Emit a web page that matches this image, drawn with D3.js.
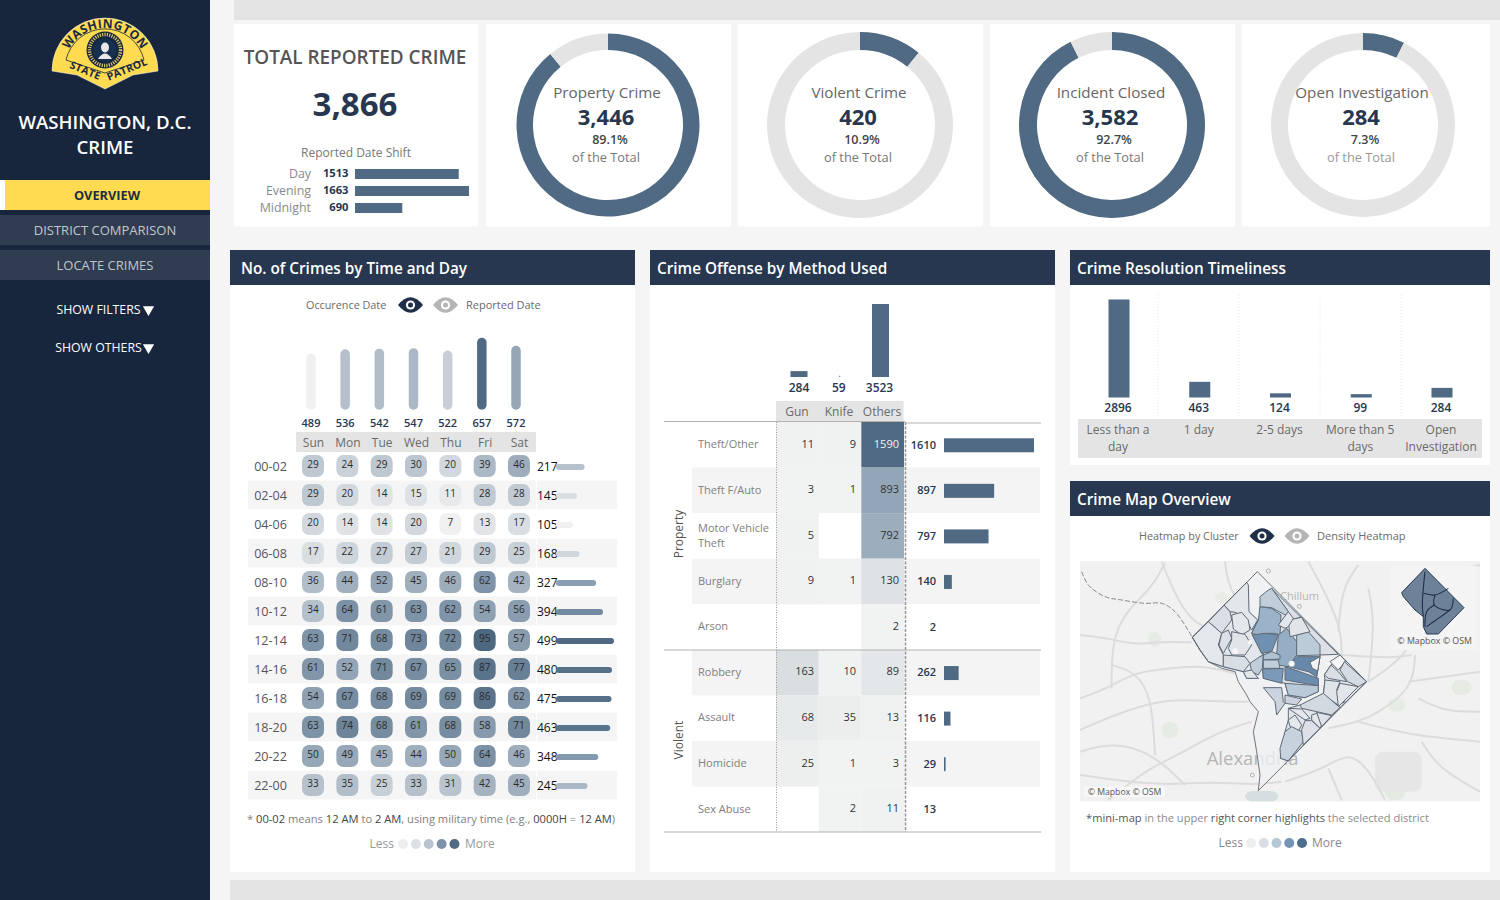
<!DOCTYPE html>
<html>
<head>
<meta charset="utf-8">
<script src="https://cdnjs.cloudflare.com/ajax/libs/d3/7.8.5/d3.min.js"></script>
<style>
html, body { margin: 0; padding: 0; background: #f5f5f5; overflow: hidden; }
svg { display: block; }
text { font-family: "Open Sans", sans-serif; }
</style>
</head>
<body>
<script>
// top cards
var totalCrime = 3866
var shifts = ['Day', 'Evening', 'Midnight']
var shiftValues = [1513, 1663, 690]
var donutLabels = ['Property Crime', 'Violent Crime', 'Incident Closed', 'Open Investigation']
var donutValues = [3446, 420, 3582, 284]
var donutPercents = ['89.1%', '10.9%', '92.7%', '7.3%']

// time and day
var days = ['Sun', 'Mon', 'Tue', 'Wed', 'Thu', 'Fri', 'Sat']
var dayTotals = [489, 536, 542, 547, 522, 657, 572]
var hours = ['00-02', '02-04', '04-06', '06-08', '08-10', '10-12', '12-14', '14-16', '16-18', '18-20', '20-22', '22-00']
var hourTotals = [217, 145, 105, 168, 327, 394, 499, 480, 475, 463, 348, 245]
var heat = [
  [29, 24, 29, 30, 20, 39, 46],
  [29, 20, 14, 15, 11, 28, 28],
  [20, 14, 14, 20, 7, 13, 17],
  [17, 22, 27, 27, 21, 29, 25],
  [36, 44, 52, 45, 46, 62, 42],
  [34, 64, 61, 63, 62, 54, 56],
  [63, 71, 68, 73, 72, 95, 57],
  [61, 52, 71, 67, 65, 87, 77],
  [54, 67, 68, 69, 69, 86, 62],
  [63, 74, 68, 61, 68, 58, 71],
  [50, 49, 45, 44, 50, 64, 46],
  [33, 35, 25, 33, 31, 42, 45]
]

// method used
var methods = ['Gun', 'Knife', 'Others']
var methodTotals = [284, 59, 3523]
var offenses = ['Theft/Other', 'Theft F/Auto', 'Motor Vehicle|Theft', 'Burglary', 'Arson', 'Robbery', 'Assault', 'Homicide', 'Sex Abuse']
var offenseTotals = [1610, 897, 797, 140, 2, 262, 116, 29, 13]
var gunCounts = [11, 3, 5, 9, null, 163, 68, 25, null]
var knifeCounts = [9, 1, null, 1, null, 10, 35, 1, 2]
var otherCounts = [1590, 893, 792, 130, 2, 89, 13, 3, 11]

// timeliness
var delays = ['Less than a|day', '1 day', '2-5 days', 'More than 5|days', 'Open|Investigation']
var delayCounts = [2896, 463, 124, 99, 284]

// map: rings are traced on a 1230 x 930 grid laid over the map panel
var dcOutline = [[547,50],[875,380],[550,707],[555,660],[545,590],[535,530],[550,470],[525,440],[515,420],[490,380],[480,350],[440,340],[400,320],[375,285],[352,247]]
var districtRings = [
  // backing areas first, so the clusters on top leave no holes
  [[352,247],[515,85],[520,170],[548,195],[530,235],[545,265],[560,295],[565,300],[555,305],[530,350],[550,370],[515,370],[505,350],[445,335],[400,320],[375,285]],
  [[555,155],[640,170],[680,187],[735,300],[735,305],[725,365],[730,392],[730,410],[690,428],[640,420],[630,385],[565,370],[563,342],[565,300]],
  [[795,300],[875,380],[795,458],[745,415],[750,375],[748,360],[768,330]],
  [[675,450],[795,458],[640,618],[617,610],[630,530],[640,495],[640,460]],
  // clusters
  [[590,100],[790,298],[735,300],[700,230],[680,187],[640,195],[640,170]],
  [[515,82],[447,150],[465,170],[480,172],[510,185],[530,225],[548,195],[522,170],[520,90]],
  [[447,150],[400,200],[440,235],[470,195],[465,170]],
  [[470,180],[500,172],[520,195],[525,225],[500,240],[475,222]],
  [[352,247],[400,200],[440,235],[430,270],[445,300],[445,335],[400,320],[375,285]],
  [[440,235],[460,225],[470,250],[445,295],[432,270]],
  [[470,230],[510,238],[530,270],[510,300],[470,300],[460,280],[470,255]],
  [[445,300],[510,305],[525,325],[505,350],[445,335]],
  [[525,325],[555,305],[565,300],[562,340],[550,360],[530,350]],
  [[505,350],[530,345],[550,370],[515,370]],
  [[555,155],[590,160],[618,180],[615,240],[600,235],[575,235],[550,240],[530,235],[550,195]],
  [[555,125],[580,105],[590,100],[640,170],[635,182],[590,158],[555,155]],
  [[532,240],[570,235],[610,240],[600,265],[590,290],[560,295],[545,265]],
  [[610,240],[635,220],[665,260],[665,300],[640,335],[610,330],[605,300]],
  [[565,300],[590,290],[615,300],[615,312],[565,315]],
  [[565,315],[610,315],[615,340],[565,340]],
  [[563,342],[625,340],[620,385],[565,370]],
  [[640,335],[665,305],[735,305],[725,365],[700,350],[660,340]],
  [[705,322],[735,305],[728,348],[712,340]],
  [[630,335],[660,345],[730,370],[730,392],[630,375]],
  [[665,240],[700,230],[735,270],[735,300],[665,302]],
  [[640,195],[680,187],[705,230],[665,240],[645,245]],
  [[610,210],[640,170],[655,190],[640,215],[630,220]],
  [[630,385],[730,392],[730,410],[690,428],[640,420]],
  [[565,398],[620,398],[625,440],[630,445],[605,480],[600,440]],
  [[630,420],[680,432],[665,450],[630,445]],
  [[768,330],[790,350],[815,380],[760,370],[748,360]],
  [[795,300],[812,318],[790,345],[765,320]],
  [[808,320],[875,380],[850,395],[818,380],[795,345]],
  [[750,375],[795,380],[785,405],[810,440],[790,450],[745,420]],
  [[795,385],[850,395],[790,455],[785,410]],
  [[745,415],[795,458],[770,480],[725,470],[680,460],[675,450]],
  [[640,460],[680,462],[705,490],[690,495]],
  [[710,480],[725,475],[745,500],[735,520],[710,495]],
  [[725,472],[770,482],[740,515]],
  [[640,495],[660,480],[680,510],[670,528],[645,515]],
  [[630,530],[650,515],[680,530],[685,560],[640,618],[617,610],[615,580]],
  [[690,497],[710,497],[735,520],[685,570],[680,525]]
]
var districtLevels = [0.5, 0.9, 0.6, 0.6, 0.8, 0.5, 0.9, 0.4, 0.4, 0.8, 0.6, 1, 1.7, 0.5, 2.4, 1.7, 3.1, 2.5, 2.1, 1.7, 2.9, 3.3, -0.5, 3.2, 1.8, 0.6, 0.5, 1.9, 1.4, 1.4, 0.9, -0.5, 1.1, 0.6, 0.5, 1.2, 0.4, 0.5, 0.7, 0.3, 1.5, 0.8]
var roads = [
  [[15,240],[100,250],[180,270],[250,260],[350,262]],
  [[110,400],[110,260],[150,170],[230,100],[270,25]],
  [[15,430],[100,400],[180,350],[290,340],[380,330],[480,355]],
  [[15,525],[140,470],[280,430],[420,440],[520,440]],
  [[100,735],[220,640],[310,600],[430,530],[530,500]],
  [[880,380],[1000,300],[1030,200],[1000,100],[1100,50],[1215,30]],
  [[1020,300],[1015,400],[900,480],[850,500],[760,520]],
  [[1215,560],[1000,540],[850,500]],
  [[630,680],[750,640],[820,590],[880,640],[930,735]],
  [[700,20],[760,130],[800,230],[800,300]],
  [[800,300],[950,310],[1010,300]],
  [[15,660],[150,680],[280,690],[400,680],[540,690],[620,680]],
  [[850,30],[800,100],[790,230]],
  [[1000,380],[1215,350]],
  [[260,20],[300,120],[350,200],[420,230]],
  [[15,590],[120,560],[240,600],[330,690]],
  [[450,20],[460,100],[520,180]],
  [[1040,560],[1090,640],[1215,710]],
  [[110,330],[180,350],[230,420],[240,600]],
  [[880,100],[900,200],[880,380]],
  [[1030,430],[1110,470],[1215,470]],
  [[760,640],[800,735]]
]
var potomac = [[20,50],[40,90],[90,125],[140,135],[210,145],[260,145],[300,170],[352,247]]
var miniOutline = [[1050,40],[1167,158],[1090,237],[1055,237],[1045,215],[1045,185],[1020,165],[985,125],[980,113]]
var miniBorders = [
  [[1050,50],[1045,100],[1042,150],[1045,185]],
  [[1045,115],[1080,120],[1120,100]],
  [[1080,120],[1078,150],[1125,165],[1135,130]],
  [[1078,150],[1055,170],[1050,215]],
  [[1125,165],[1090,190],[1055,215]]
]
var legendShades = ['#eceef0', '#d9dde4', '#b5c7d5', '#7494b5', '#4c6f90']
var heatLegendShades = ['#eeeeee', '#dcdfe3', '#b7c3cf', '#7d92a8', '#4f6a82']

var dark = '#27374f', slate = '#4f6a82', band = '#e4e4e4', greyText = '#6a6a6a'
var svg = d3.select('body').append('svg').attr('width', 1500).attr('height', 900)

function rect(g, x, y, w, h, fill) {
  return g.append('rect').attr('x', x).attr('y', y).attr('width', w).attr('height', h).attr('fill', fill)
}
function label(g, x, y, str, size, fill, anchor, weight) {
  return g.append('text').attr('x', x).attr('y', y).attr('dy', '0.35em')
    .attr('font-size', size).attr('fill', fill)
    .attr('text-anchor', anchor || 'start').attr('font-weight', weight || 400).text(str)
}
function multiline(sel, lineHeight) {
  sel.each(function(d) {
    var t = d3.select(this), parts = t.attr('data-lines').split('|'), x = t.attr('x')
    parts.forEach(function(p, i) {
      t.append('tspan').attr('x', x).attr('dy', i ? lineHeight : '0.35em').text(p)
    })
  })
}
function eye(g, cx, cy, color) {
  var e = g.append('g').attr('transform', 'translate(' + cx + ',' + cy + ')')
  e.append('path').attr('d', 'M-12.5,0Q0,-15.5 12.5,0Q0,15.5 -12.5,0Z').attr('fill', color)
  e.append('circle').attr('r', 4.6).attr('fill', '#fff')
  e.append('circle').attr('r', 2.5).attr('fill', color)
}

// ---- page frame
var frame = svg.append('g')
rect(frame, 234, 0, 1266, 20, band)
rect(frame, 230, 880, 1270, 20, band)
;[[234, 244], [486, 245], [738, 245], [990, 245], [1242, 248]].forEach(function(c) {
  rect(frame, c[0], 24, c[1], 202.5, '#fff')
})
;[[230, 250, 405, 622, 'No. of Crimes by Time and Day', 11],
  [650, 250, 405, 622, 'Crime Offense by Method Used', 7],
  [1070, 250, 420, 215, 'Crime Resolution Timeliness', 7],
  [1070, 481, 420, 391, 'Crime Map Overview', 7]].forEach(function(p) {
  rect(frame, p[0], p[1], p[2], p[3], '#fff')
  rect(frame, p[0], p[1], p[2], 35, dark)
  label(frame, p[0] + p[5], p[1] + 18.5, p[4], 15.3, '#fff', 'start', 600)
})

// ---- sidebar
var side = svg.append('g')
rect(side, 0, 0, 210, 900, '#17263d')
rect(side, 0, 180, 5, 30, '#fff')
rect(side, 5, 180, 205, 30, '#fedb50')
rect(side, 0, 215, 210, 30, '#303d50')
rect(side, 0, 250, 210, 30, '#303d50')
label(side, 105, 122.5, 'WASHINGTON, D.C.', 18.6, '#fff', 'middle', 600)
label(side, 105, 147.5, 'CRIME', 18.6, '#fff', 'middle', 600)
label(side, 107, 195.5, 'OVERVIEW', 12.8, '#1d2d45', 'middle', 700)
label(side, 105, 230.5, 'DISTRICT COMPARISON', 13, '#c2c6cc', 'middle')
label(side, 105, 265.5, 'LOCATE CRIMES', 13, '#c2c6cc', 'middle')
label(side, 98.5, 309.5, 'SHOW FILTERS', 12.3, '#fff', 'middle')
label(side, 98.5, 347.5, 'SHOW OTHERS', 12.3, '#fff', 'middle')
;[309.5, 347.5].forEach(function(y) {
  side.append('path').attr('fill', '#fff')
    .attr('d', d3.symbol().type(d3.symbolTriangle).size(55))
    .attr('transform', 'translate(148.5,' + y + ') rotate(180)')
})

// logo
var logo = svg.append('g')
var defs = svg.append('defs')
defs.append('path').attr('id', 'arcTop').attr('d', 'M64,69A41,41 0 0 1 146,69')
defs.append('path').attr('id', 'lineLeft').attr('d', 'M67,67L101,81')
defs.append('path').attr('id', 'lineRight').attr('d', 'M108,81L149,64')
logo.append('path').attr('fill', '#fedb50').attr('stroke', '#fff').attr('stroke-width', 0.5)
  .attr('d', 'M52,71A53,53 0 0 1 158,71L133,75L105,89L77,75Z')
logo.append('path').attr('fill', 'none').attr('stroke', '#17263d').attr('stroke-width', 0.8)
  .attr('d', 'M66,60L105,73L144,60M66,60A40,40 0 0 1 144,60')
logo.append('circle').attr('cx', 105).attr('cy', 50).attr('r', 18.5).attr('fill', '#17263d')
logo.append('circle').attr('cx', 105).attr('cy', 50).attr('r', 15.5).attr('fill', 'none')
  .attr('stroke', '#d9c46a').attr('stroke-width', 3.4).attr('stroke-dasharray', '1.2 1.2')
logo.append('circle').attr('cx', 105).attr('cy', 50).attr('r', 11.5).attr('fill', '#15314f')
logo.append('ellipse').attr('cx', 105).attr('cy', 47.5).attr('rx', 4).attr('ry', 5).attr('fill', '#e8e8e8')
logo.append('path').attr('d', 'M98,59Q105,48 112,59Z').attr('fill', '#e8e8e8')
;[['#arcTop', 'WASHINGTON', 12.2, '50%'], ['#lineLeft', 'STATE', 10.5, '50%'], ['#lineRight', 'PATROL', 10.5, '50%']].forEach(function(t) {
  logo.append('text').attr('font-size', t[2]).attr('font-weight', 700).attr('fill', '#1b2b43')
    .attr('text-anchor', 'middle').attr('letter-spacing', 0.3)
    .append('textPath').attr('href', t[0]).attr('startOffset', t[3]).text(t[1])
})

// ---- total card
var total = svg.append('g')
label(total, 355, 57, 'TOTAL REPORTED CRIME', 18.9, '#555', 'middle', 600)
label(total, 355, 104, d3.format(',')(totalCrime), 33, dark, 'middle', 700)
label(total, 356, 153, 'Reported Date Shift', 12, '#777', 'middle')
var shiftY = d3.scalePoint().domain(shifts).range([174, 208])
var shiftX = d3.scaleLinear().domain([0, d3.max(shiftValues)]).range([0, 114])
shifts.forEach(function(s, i) {
  label(total, 311, shiftY(s), s, 12.4, '#8a8a8a', 'end')
  label(total, 348.5, shiftY(s) - 0.5, shiftValues[i], 11.2, dark, 'end', 700)
  rect(total, 355, shiftY(s) - 5, shiftX(shiftValues[i]), 10, slate)
})

// ---- donuts
var donutCx = [608, 860, 1112, 1363]
var donutOuter = [91.5, 93, 93, 92]
var pie = d3.pie().sort(null).value(function(d) { return d })
donutValues.forEach(function(v, i) {
  var g = svg.append('g').attr('transform', 'translate(' + donutCx[i] + ',125)')
  var arc = d3.arc().innerRadius(75).outerRadius(donutOuter[i])
  g.selectAll('path').data(pie([v, totalCrime - v])).enter().append('path')
    .attr('d', arc).attr('fill', function(d, j) { return j ? band : slate })
  label(g, -1, -32.5, donutLabels[i], 15.2, '#666', 'middle')
  label(g, -2, -8, d3.format(',')(v), 22, dark, 'middle', 700)
  label(g, 2, 14.5, donutPercents[i], 12.5, '#444', 'middle', 600)
  label(g, -2, 32.5, 'of the Total', 12.8, i == 3 ? '#999' : '#777', 'middle')
})

// ---- time and day
var td = svg.append('g')
label(td, 306, 305, 'Occurence Date', 10.8, greyText)
eye(td, 410.5, 305, '#1f2f48')
eye(td, 445.5, 305, '#b5b5b5')
label(td, 466, 305, 'Reported Date', 11, greyText)

var barX = d3.scalePoint().domain(days).range([311, 516])
var barY = d3.scaleLinear().domain([0, 657]).range([405, 342.5])
var dayColor = d3.scaleLinear().domain([489, 536, 657]).range(['#f0f0f0', '#b5c0cc', slate])
td.selectAll('.daybar').data(days).enter().append('line')
  .attr('x1', function(d) { return barX(d) }).attr('x2', function(d) { return barX(d) })
  .attr('y1', barY(0))
  .attr('y2', function(d, i) { return barY(dayTotals[i]) })
  .attr('stroke', function(d, i) { return dayColor(dayTotals[i]) })
  .attr('stroke-width', 9.5).attr('stroke-linecap', 'round')
days.forEach(function(d, i) {
  label(td, barX(d), 423, dayTotals[i], 11, dark, 'middle', 600)
})
rect(td, 296, 432, 240, 20, band)

var cellX = d3.scalePoint().domain(days).range([313, 519])
var cellY = d3.scalePoint().domain(hours).range([466, 785])
var cellColor = d3.scaleLinear().domain([7, 30, 62, 95]).range(['#f0f0f0', '#bcc6d0', '#7f94a8', '#4d6880'])
var totalColor = d3.scaleLinear().domain([105, 217, 348, 499]).range(['#f0f0f0', '#b5c1cc', '#8399ad', slate])
var totalX = d3.scaleLinear().domain([0, 499]).range([559, 611])

hours.forEach(function(h, i) {
  if (i % 2) {
    rect(td, 248, cellY(h) - 14.5, 288, 29, '#f5f5f5')
    rect(td, 537, cellY(h) - 14.5, 80, 29, '#f5f5f5')
  }
})
td.append('g').attr('transform', 'translate(0,442.5)')
  .call(d3.axisBottom(cellX).tickSize(0).tickPadding(0))
  .call(function(a) { a.select('.domain').remove() })
  .selectAll('text').attr('dy', '0.35em').attr('y', 0).attr('font-size', 12).attr('fill', greyText)
  .attr('font-family', '"Open Sans", sans-serif')
td.append('g').attr('transform', 'translate(287,0)')
  .call(d3.axisLeft(cellY).tickSize(0).tickPadding(0))
  .call(function(a) { a.select('.domain').remove() })
  .selectAll('text').attr('font-size', 12.6).attr('fill', '#555')
  .attr('font-family', '"Open Sans", sans-serif')

var cellRows = td.selectAll('.hour').data(heat).enter().append('g')
  .attr('transform', function(d, i) { return 'translate(0,' + cellY(hours[i]) + ')' })
var cells = cellRows.selectAll('g').data(function(d) { return d }).enter().append('g')
  .attr('transform', function(d, i) { return 'translate(' + cellX(days[i]) + ',0)' })
cells.append('rect').attr('x', -11).attr('y', -11).attr('width', 22).attr('height', 22)
  .attr('rx', 7).attr('ry', 7).attr('fill', function(d) { return cellColor(d) })
cells.append('text').attr('text-anchor', 'middle').attr('y', -1).attr('dy', '0.3em').attr('font-size', 10)
  .attr('fill', '#2b2b2b').text(function(d) { return d })

hours.forEach(function(h, i) {
  label(td, 537, cellY(h) + 0.5, hourTotals[i], 12, '#111')
  td.append('line').attr('x1', totalX(0)).attr('x2', totalX(hourTotals[i]))
    .attr('y1', cellY(h) + 1).attr('y2', cellY(h) + 1)
    .attr('stroke', totalColor(hourTotals[i])).attr('stroke-width', 6).attr('stroke-linecap', 'round')
})

var note = label(td, 247, 819, '', 11.15, '#777')
;[['* ', 0], ['00-02', 1], [' means ', 0], ['12 AM', 1], [' to ', 0], ['2 AM', 1], [', using military time (e.g., ', 0], ['0000H', 1], [' = ', 0], ['12 AM', 1], [')', 0]].forEach(function(p) {
  note.append('tspan').attr('fill', p[1] ? '#444' : '#808080').text(p[0])
})
label(td, 394, 844, 'Less', 12, '#999', 'end')
label(td, 465, 844, 'More', 12, '#999')
var heatLegendX = d3.scalePoint().domain(d3.range(5)).range([403, 454.5])
td.selectAll('.lg').data(heatLegendShades).enter().append('circle')
  .attr('cx', function(d, i) { return heatLegendX(i) }).attr('cy', 844).attr('r', 5)
  .attr('fill', function(d) { return d })

// ---- method used
var mt = svg.append('g')
var rowY = d3.scaleBand().domain(offenses).range([422, 832])
var colX = d3.scaleBand().domain(methods).range([776, 904])
var topBarX = d3.scalePoint().domain(methods).range([799, 880.5])
var topBarH = d3.scaleLinear().domain([0, 3523]).range([0, 73])
var countColor = d3.scaleLinear().domain([1, 163, 893, 1590]).range(['#f1f2f2', '#d9dee1', '#92a6b7', slate])
var methodCounts = [gunCounts, knifeCounts, otherCounts]
var totalBar = d3.scaleLinear().domain([0, 1610]).range([0, 90])

offenses.forEach(function(o, i) {
  if (i == 1 || i == 3 || i == 5 || i == 7) rect(mt, 692, rowY(o), 348, rowY.bandwidth(), '#f4f4f4')
})
methods.forEach(function(m, j) {
  methodCounts[j].forEach(function(v, i) {
    if (v == null) return
    rect(mt, colX(m), rowY(offenses[i]), colX.bandwidth(), rowY.bandwidth(), countColor(v))
  })
  // the knife total is so small next to the others that it only reads as a dot
  var h = topBarH(methodTotals[j]), w = h < 2 ? 1 : 17
  rect(mt, topBarX(m) - w / 2, 377 - h, w, h, slate)
  label(mt, topBarX(m) - (j ? 1 : 0), 388, methodTotals[j], 12, dark, 'middle', 600)
})
rect(mt, 776, 401, 127.5, 20.5, band)
;[797, 839, 882].forEach(function(x, j) { label(mt, x, 412, methods[j], 12, greyText, 'middle') })

var colRight = [814, 856, 899]
methods.forEach(function(m, j) {
  methodCounts[j].forEach(function(v, i) {
    if (v == null) return
    label(mt, colRight[j], rowY(offenses[i]) + rowY.bandwidth() / 2 - 1, v, 11, v > 1000 ? '#eef2f5' : '#333', 'end')
  })
})
offenses.forEach(function(o, i) {
  var cy = rowY(o) + rowY.bandwidth() / 2
  mt.append('text').attr('x', 698).attr('y', o.indexOf('|') > 0 ? cy - 7.5 : cy - 0.5)
    .attr('data-lines', o).attr('font-size', 11).attr('fill', '#808080')
    .call(multiline, 15)
  label(mt, 936, cy, offenseTotals[i], 11, dark, 'end', 600)
  // anything thinner than a pixel does not show up in the picture
  if (totalBar(offenseTotals[i]) >= 1) rect(mt, 944, cy - 6.5, totalBar(offenseTotals[i]), 14, slate)
})
;[['Property', 534], ['Violent', 740]].forEach(function(g) {
  mt.append('text').attr('transform', 'translate(679,' + g[1] + ') rotate(-90)').attr('dy', '0.35em')
    .attr('text-anchor', 'middle').attr('font-size', 12).attr('fill', '#555').text(g[0])
})
mt.append('line').attr('x1', 664).attr('x2', 905).attr('y1', 421.5).attr('y2', 421.5).attr('stroke', '#b3b3b3')
mt.append('line').attr('x1', 905).attr('x2', 1041).attr('y1', 423).attr('y2', 423).attr('stroke', '#b3b3b3')
;[650, 832].forEach(function(y) {
  mt.append('line').attr('x1', 664).attr('x2', 1041).attr('y1', y).attr('y2', y).attr('stroke', '#b3b3b3')
})
mt.append('line').attr('x1', 776.5).attr('x2', 776.5).attr('y1', 422).attr('y2', 832)
  .attr('stroke', '#999').attr('stroke-dasharray', '1 1.5')
mt.append('line').attr('x1', 905.5).attr('x2', 905.5).attr('y1', 422).attr('y2', 832)
  .attr('stroke', '#999').attr('stroke-width', 1.6).attr('stroke-dasharray', '3 1.5')

// ---- timeliness
var rs = svg.append('g')
var delayX = d3.scalePoint().domain(delays).range([1119, 1442])
var delayH = d3.scaleLinear().domain([0, 2896]).range([0, 98])
rect(rs, 1078, 419, 404, 39, band)
;[1158, 1239, 1320, 1401].forEach(function(x) {
  rs.append('line').attr('x1', x).attr('x2', x).attr('y1', 295).attr('y2', 418)
    .attr('stroke', '#eaeaea').attr('stroke-dasharray', '1 2')
})
delays.forEach(function(d, i) {
  rect(rs, delayX(d) - 10.5, 397.5 - delayH(delayCounts[i]), 21, delayH(delayCounts[i]), slate)
  label(rs, delayX(d) - 1, 407.5, delayCounts[i], 12, dark, 'middle', 600)
  rs.append('text').attr('x', delayX(d) - 1).attr('y', 430).attr('text-anchor', 'middle')
    .attr('data-lines', d).attr('font-size', 12).attr('fill', greyText)
    .call(multiline, 17)
})

// ---- map
var mp = svg.append('g')
label(mp, 1139, 536, 'Heatmap by Cluster', 10.8, greyText)
eye(mp, 1262, 536, '#1f2f48')
eye(mp, 1297, 536, '#b5b5b5')
label(mp, 1317, 536, 'Density Heatmap', 11, greyText)

var gx = d3.scaleLinear().domain([0, 1230]).range([1075, 1485])
var gy = d3.scaleLinear().domain([0, 930]).range([555, 865])
var ringLine = d3.line().x(function(p) { return gx(p[0]) }).y(function(p) { return gy(p[1]) }).curve(d3.curveLinearClosed)
var roadLine = d3.line().x(function(p) { return gx(p[0]) }).y(function(p) { return gy(p[1]) }).curve(d3.curveBasis)
var riverLine = d3.line().x(function(p) { return gx(p[0]) }).y(function(p) { return gy(p[1]) }).curve(d3.curveCatmullRom)

defs.append('clipPath').attr('id', 'mapClip').append('rect')
  .attr('x', 1080).attr('y', 561).attr('width', 400).attr('height', 240.5)
var base = mp.append('g').attr('clip-path', 'url(#mapClip)')
rect(base, 1080, 561, 400, 241, '#f1f1f1')
// basemap patches
;[[1130, 375, 60, 45, '#e5ebe2'], [930, 690, 60, 45, '#e3eadf'], [940, 430, 50, 40, '#e6ebe3'],
  [900, 590, 140, 120, '#e6e6e6'], [420, 110, 40, 35, '#e7ece4'], [220, 230, 40, 45, '#e6ece3'],
  [260, 500, 50, 50, '#e6ece4'], [510, 708, 100, 32, '#d5dfdf']].forEach(function(p) {
  base.append('rect').attr('x', gx(p[0])).attr('y', gy(p[1]))
    .attr('width', gx(p[2]) - gx(0)).attr('height', gy(p[3]) - gy(0))
    .attr('rx', 8).attr('fill', p[4])
})
base.selectAll('.road').data(roads).enter().append('path')
  .attr('d', roadLine).attr('fill', 'none').attr('stroke', '#dcdcdc').attr('stroke-width', 2)
base.append('path').datum(potomac).attr('d', riverLine).attr('fill', 'none')
  .attr('stroke', '#8a8a8a').attr('stroke-width', 1).attr('stroke-dasharray', '5 2')
label(base, gx(615), gy(123), 'Chillum', 11, '#b5b5b5')
label(base, gx(395), gy(612), 'Alexandria', 18.5, '#b5b5b5')
;[[580, 48], [673, 154], [532, 660]].forEach(function(p) {
  base.append('circle').attr('cx', gx(p[0])).attr('cy', gy(p[1])).attr('r', 2)
    .attr('fill', '#f4f4f4').attr('stroke', '#b0b0b0')
})
base.append('path').datum(dcOutline).attr('d', ringLine).attr('fill', '#eff1f3').attr('fill-opacity', 0.78)
var levelColor = d3.scaleLinear().domain([-0.5, 0, 1, 2, 3, 4]).range(['#f6f6f6'].concat(legendShades))
base.selectAll('.district').data(districtRings).enter().append('path')
  .attr('d', ringLine)
  .attr('fill', function(d, i) { return levelColor(districtLevels[i]) })
  .attr('stroke', '#5f6b78').attr('stroke-width', 1).attr('stroke-linejoin', 'round')
base.append('path').datum(dcOutline).attr('d', ringLine).attr('fill', 'none')
  .attr('stroke', '#5d6671').attr('stroke-width', 0.9)
;[[481, 289, 3], [650, 326, 3], [525, 262, 2.4]].forEach(function(p) {
  base.append('circle').attr('cx', gx(p[0])).attr('cy', gy(p[1])).attr('r', p[2]).attr('fill', '#f6f6f6')
})
rect(base, gx(28), gy(695), gx(242) - gx(0), gy(30) - gy(0), '#f8f8f8')
base.append('text').attr('x', gx(38)).attr('y', gy(711)).attr('dy', '0.35em').attr('font-size', 8.7)
  .attr('font-family', '"Liberation Sans", sans-serif').attr('fill', '#555').text('© Mapbox © OSM')

// mini map
rect(base, gx(945), gy(32), gx(260) - gx(0), gy(253) - gy(0), '#f4f4f4')
base.append('path').datum(miniOutline).attr('d', ringLine).attr('fill', '#6d8299')
  .attr('stroke', '#2b3b50').attr('stroke-width', 1)
base.selectAll('.mini').data(miniBorders).enter().append('path')
  .attr('d', riverLine).attr('fill', 'none').attr('stroke', '#1f3048').attr('stroke-width', 1.1)
base.append('text').attr('x', gx(967)).attr('y', gy(257)).attr('dy', '0.35em').attr('font-size', 8.8)
  .attr('font-family', '"Liberation Sans", sans-serif').attr('fill', '#555').text('© Mapbox © OSM')

var mapNote = label(mp, 1086, 818, '', 11.1, '#888')
;[['*', 1], ['mini-map', 1], [' in the upper ', 0], ['right corner highlights', 1], [' the selected district', 0]].forEach(function(p) {
  mapNote.append('tspan').attr('fill', p[1] ? '#555' : '#8c8c8c').text(p[0])
})
label(mp, 1243, 843, 'Less', 12, '#888', 'end')
label(mp, 1312, 843, 'More', 12, '#888')
var mapLegendX = d3.scalePoint().domain(d3.range(5)).range([1251, 1302])
mp.selectAll('.lg').data(legendShades).enter().append('circle')
  .attr('cx', function(d, i) { return mapLegendX(i) }).attr('cy', 843).attr('r', 5)
  .attr('fill', function(d) { return d })
</script>
</body>
</html>
